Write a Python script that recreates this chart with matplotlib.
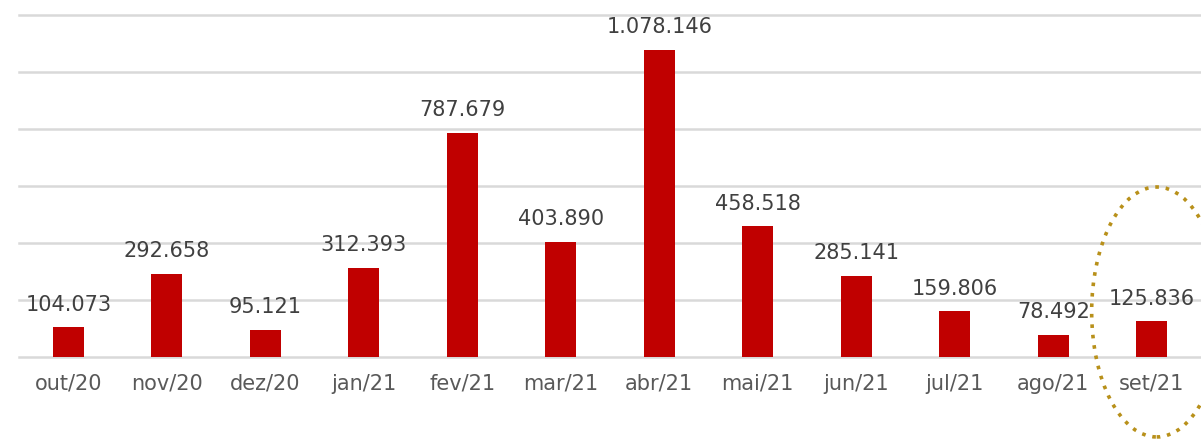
import matplotlib
matplotlib.use("Agg")
import matplotlib.pyplot as plt
from matplotlib.patches import Ellipse

categories = ["out/20", "nov/20", "dez/20", "jan/21", "fev/21", "mar/21",
              "abr/21", "mai/21", "jun/21", "jul/21", "ago/21", "set/21"]
values = [104073, 292658, 95121, 312393, 787679, 403890,
          1078146, 458518, 285141, 159806, 78492, 125836]
grid_ticks = [0, 200000, 400000, 600000, 800000, 1000000, 1200000]

def fmt(v):
    return f"{v:,}".replace(",", ".")

fig = plt.figure(figsize=(12.01, 4.4), dpi=100)
ax = fig.add_axes([19/1201, 83/440, 1 - 19/1201, (357-15)/440])

x = list(range(len(categories)))
ax.bar(x, values, width=0.31, color="#C00000", zorder=3)

for xi, v in zip(x, values):
    ax.annotate(fmt(v), (xi, v), xytext=(0, 9), textcoords="offset points",
                ha="center", va="bottom", fontsize=15, color="#404040",
                family="DejaVu Sans")

ax.set_xlim(-0.5, len(categories) - 0.5)
ax.set_ylim(0, 1200000)
ax.set_yticks(grid_ticks)
ax.set_yticklabels([])
ax.yaxis.grid(True, color="#D9D9D9", linewidth=1.8)
for gl in ax.yaxis.get_gridlines():
    gl.set_clip_on(False)
ax.set_axisbelow(True)
ax.tick_params(axis="both", length=0)
ax.set_xticks(x)
ax.set_xticklabels(categories, fontsize=15, color="#595959", family="DejaVu Sans")
ax.tick_params(axis="x", pad=12)
for s in ax.spines.values():
    s.set_visible(False)

ell = Ellipse((11.05, 158000), width=1.32, height=877000, fill=False,
              edgecolor="#B8901A", linewidth=2.6, linestyle=(0, (1, 1.9)),
              clip_on=False, zorder=5)
ax.add_patch(ell)

fig.savefig("out.png", dpi=100)
